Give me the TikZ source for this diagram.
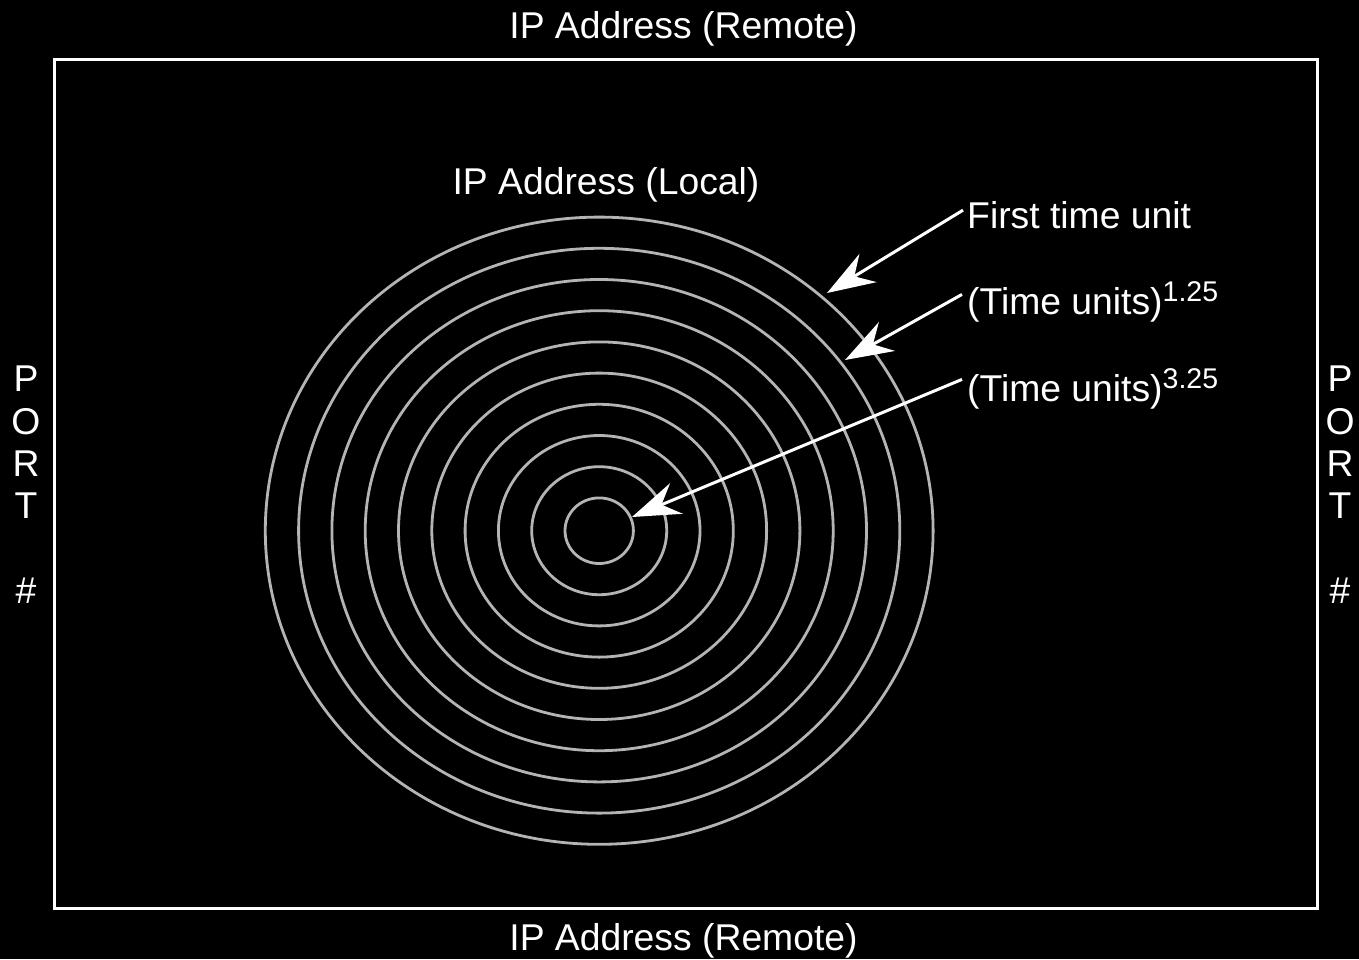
\documentclass[tikz,border=0pt]{standalone}
\usepackage{fontspec}
\setmainfont{Liberation Sans}
\usetikzlibrary{arrows.meta}
\definecolor{ringgray}{HTML}{B4B4B4}
\newcommand\expo[1]{\raisebox{13pt}{\fontsize{28.5}{30}\selectfont #1}}
\begin{document}
\begin{tikzpicture}[x=1pt,y=-1pt,
  lbl/.style={text=white, inner sep=0pt, font=\fontsize{37.3}{42.3}\selectfont},
  ring/.style={draw=ringgray, line width=2.8pt},
  pointer/.style={draw=white, line width=3pt, -{Stealth[length=48pt,width=33pt,inset=16pt]}},
  frame/.style={draw=white, line width=3pt}]
\fill[black] (0,0) rectangle (1359,959);
\useasboundingbox (0,0) rectangle (1359,959);
\draw[frame] (54.5,59.5) rectangle (1317.5,908.5);
\foreach \k in {0,...,9}
  \draw[ring] (599.2,530.7) ellipse [x radius={34.2pt+33.3pt*\k}, y radius={32.8pt+31.2pt*\k}];
\node[lbl, anchor=base] (rt) at (683.5,38) {IP Address (Remote)};
\node[lbl, anchor=base] (rb) at (683.5,950) {IP Address (Remote)};
\node[lbl, anchor=base] (loc) at (606,194) {IP Address (Local)};
\node[lbl, anchor=base west] (t1) at (967,228) {First time unit};
\node[lbl, anchor=base west] (t2) at (967,314) {(Time units)\expo{1.25}};
\node[lbl, anchor=base west] (t3) at (967,401) {(Time units)\expo{3.25}};
\node[lbl, align=center, anchor=north] (pl) at (26,366) {P\\O\\R\\T\\[42.3pt]\#};
\node[lbl, align=center, anchor=north] (pr) at (1340,366) {P\\O\\R\\T\\[42.3pt]\#};
\coordinate (c1) at (827,293);
\coordinate (c2) at (845,360);
\coordinate (c3) at (632,517);
\draw[pointer] ([xshift=-4pt,yshift=4.5pt]t1.west) -- (c1);
\draw[pointer] ([xshift=-5pt,yshift=7pt]t2.west) -- (c2);
\draw[pointer] ([xshift=-5pt,yshift=9pt]t3.west) -- (c3);
\end{tikzpicture}
\end{document}
